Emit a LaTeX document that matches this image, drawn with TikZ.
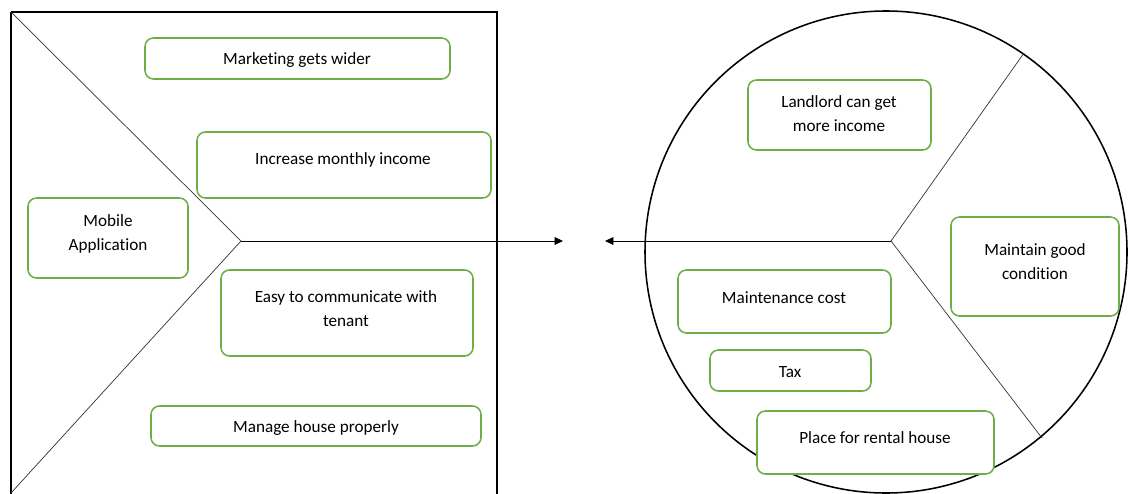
\documentclass[tikz,border=0pt]{standalone}
\usepackage{fontspec}
\setmainfont{Carlito}[Ligatures=NoCommon]
\usetikzlibrary{arrows.meta,fit}
\definecolor{cardgreen}{HTML}{70AD47}

\begin{document}
\begin{tikzpicture}[x=0.025cm,y=-0.025cm,
    card/.style={draw=cardgreen,line width=1.1pt,rounded corners=6pt,fill=white,inner sep=0pt},
    spoke/.style={draw=black!80,line width=0.5pt},
    tip/.style={-{Triangle[length=6pt,width=5.5pt]},line width=0.5pt}]

        \useasboundingbox (0,0) rectangle (1128,493);

        % left frame and fork
        \coordinate (lv) at (241,241);
        \coordinate (la) at (563,241);
        \draw[line width=1pt] (11,12) -- (497,12) -- (497,520) (11,12) -- (11,520);
        \draw[spoke] (11,12) -- (lv) -- (11,493);
        \draw[tip] (lv) -- (la);

        % right circle and fork
        \coordinate (rc) at (886,252);
        \coordinate (rv) at (891,241);
        \coordinate (ra) at (605,241);
        \coordinate (rt) at (1024,53);
        \coordinate (rb) at (1042,438);
        \draw[line width=1.1pt] (rc) circle (241);
        \draw[spoke] (rt) -- (rv) -- (rb);
        \draw[tip] (rv) -- (ra);

        \begin{scope}[every node/.style={card}]
          \node[fit={(145,38) (450,79)}]   (mkt)   {};
          \node[fit={(197,132) (491,198)}] (inc)   {};
          \node[fit={(28,198) (188,278)}]  (mob)   {};
          \node[fit={(221,270) (473,356)}] (easy)  {};
          \node[fit={(151,406) (481,446)}] (mng)   {};
          \node[fit={(748,80) (931,150)}]  (land)  {};
          \node[fit={(951,217) (1119,316)}] (cond) {};
          \node[fit={(678,270) (891,333)}] (cost)  {};
          \node[fit={(710,350) (871,391)}] (tax)   {};
          \node[fit={(757,411) (994,474)}] (place) {};
        \end{scope}

        \begin{scope}[every node/.style={align=center,inner sep=0pt,yshift=-1.4pt,
            font=\fontsize{12.2}{17}\selectfont}]
          \node (mktT)   at (297,58)    {Marketing gets wider};
          \node (incT)   at (343,158)   {Increase monthly income};
          \node (mobT)   at (108,232)   {Mobile\\Application};
          \node (easyT)  at (346,307)   {Easy to communicate with\\tenant};
          \node (mngT)   at (316,426)   {Manage house properly};
          \node (landT)  at (839,112)   {Landlord can get\\more income};
          \node (condT)  at (1035,259.5) {Maintain good\\condition};
          \node (costT)  at (784,296)   {Maintenance cost};
          \node (taxT)   at (790,370)   {Tax};
          \node (placeT) at (875,436)   {Place for rental house};
        \end{scope}

      \end{tikzpicture}
\end{document}
